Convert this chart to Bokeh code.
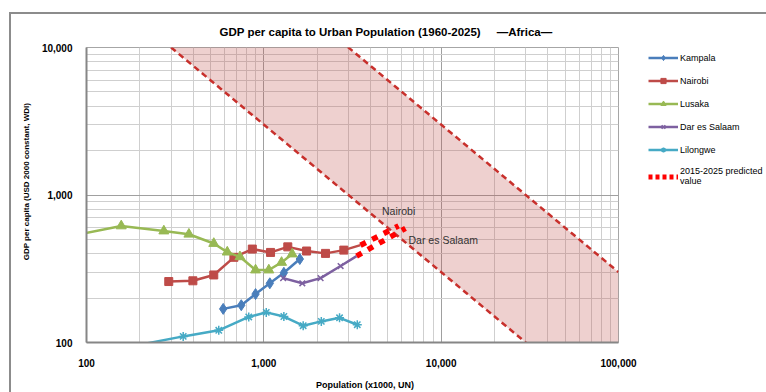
from bokeh.plotting import figure
from bokeh.layouts import row
from bokeh.models import FixedTicker, NumeralTickFormatter, Legend, LegendItem, Range1d
from bokeh.core.properties import value
from bokeh.embed import file_html
from bokeh.resources import INLINE

# ---------------- data (population x1000, GDP per capita USD) ----------------
kampala_pop = [590, 746, 898, 1081, 1297, 1596]
kampala_gdp = [169, 179, 213, 252, 297, 368]

nairobi_pop = [291, 398, 522, 678, 861, 1091, 1365, 1742, 2228, 2825, 3508]
nairobi_gdp = [259, 262, 287, 378, 430, 408, 445, 417, 402, 423, 457]

lusaka_pop = [81, 157, 273, 378, 522, 622, 733, 898, 1067, 1259, 1445]
lusaka_gdp = [526, 617, 570, 542, 469, 410, 381, 310, 310, 349, 398]

dar_pop = [1285, 1648, 2089, 2710, 3334]
dar_gdp = [273, 252, 273, 330, 385]

lilongwe_pop = [155, 351, 557, 822, 1032, 1297, 1667, 2109, 2673, 3365]
lilongwe_gdp = [91, 110, 121, 149, 160, 150, 130, 139, 147, 132]

# 2015-2025 predicted values (first point = last observed point)
pred_nairobi_pop = [3508, 4470, 5755]
pred_nairobi_gdp = [457, 528, 618]
pred_dar_pop = [3334, 4581, 6295]
pred_dar_gdp = [385, 479, 594]

# band of constant total GDP (pop x gdp = 3e6 .. 3e7)
band_pop = [100, 100000]
band_low = [30000, 30]
band_high = [300000, 300]

note_pop = [5755, 6546]
note_gdp = [774, 494]
note_text = ["Nairobi", "Dar es Salaam"]
note_align = ["center", "left"]

x_ticks = [100, 1000, 10000, 100000]
y_ticks = [100, 1000, 10000]

series_names = ["Kampala", "Nairobi", "Lusaka", "Dar es Salaam", "Lilongwe"]
pred_name = "2015-2025 predicted\nvalue"
title_text = "GDP per capita to Urban Population (1960-2025)"
title_tag = "\u2014Africa\u2014"
x_title = "Population (x1000, UN)"
y_title = "GDP per capita (USD 2000 constant, WDI)"

FONT = "Liberation Sans"
NBSP = "\u00a0"

# ---------------- main figure ----------------
p = figure(width=632, height=378, x_axis_type="log", y_axis_type="log",
           x_range=Range1d(100, 100000), y_range=Range1d(100, 10000),
           output_backend="svg", toolbar_location=None,
           min_border_left=75, min_border_right=25, min_border_top=32, min_border_bottom=49)
p.background_fill_color = "white"
p.border_fill_color = "white"
p.outline_line_color = "#A6A6A6"

p.title.text = title_text + NBSP * 5 + title_tag
p.title.align = "left"
p.title.offset = 133
p.title.standoff = 19
p.title.text_font = FONT
p.title.text_font_size = "11.5px"
p.title.text_font_style = "bold"
p.title.text_color = "#000000"

def minor_list(ticks):
    out = []
    for t in ticks[:-1]:
        out += [m * t for m in range(2, 10)]
    return out

xt = FixedTicker(ticks=x_ticks, minor_ticks=minor_list(x_ticks))
yt = FixedTicker(ticks=y_ticks, minor_ticks=minor_list(y_ticks))
p.xaxis.ticker = xt
p.xgrid.ticker = xt
p.yaxis.ticker = yt
p.ygrid.ticker = yt
for ax in (p.xaxis, p.yaxis):
    ax.formatter = NumeralTickFormatter(format="0,0")
    ax.major_tick_line_color = None
    ax.minor_tick_line_color = None
    ax.major_tick_out = 0
    ax.major_tick_in = 0
    ax.axis_line_color = "#868686"
    ax.axis_line_width = 2
    ax.major_label_text_font = FONT
    ax.major_label_text_font_size = "10px"
    ax.major_label_text_font_style = "bold"
    ax.major_label_text_color = "#000000"
    ax.axis_label_text_font = FONT
    ax.axis_label_text_font_style = "bold"
    ax.axis_label_text_color = "#000000"
p.xaxis.major_label_standoff = 12
p.yaxis.major_label_standoff = 10
p.xaxis.axis_label = NBSP * 10 + x_title
p.xaxis.axis_label_text_font_size = "9px"
p.xaxis.axis_label_standoff = 10
p.yaxis.axis_label = NBSP * 12 + y_title
p.yaxis.axis_label_text_font_size = "8px"
p.yaxis.axis_label_standoff = 8

for g in (p.xgrid, p.ygrid):
    g.grid_line_color = "#A0A0A0"
    g.grid_line_width = 1
    g.minor_grid_line_color = "#CFCFCF"
    g.minor_grid_line_width = 1

# band
p.varea(x=band_pop, y1=band_low, y2=band_high, fill_color="#C0504D", fill_alpha=0.27)
p.line(band_pop, band_low, line_color="#C8302C", line_width=2.5, line_dash="6 4")
p.line(band_pop, band_high, line_color="#C8302C", line_width=2.5, line_dash="6 4")

colors = ["#4A7EBB", "#BE4B48", "#98B954", "#7D60A0", "#46AAC5"]
markers = ["diamond", "square", "triangle", "x", "asterisk"]
msizes = [11, 8, 10, 8, 9]
shared_end = [False, True, False, True, False]   # last point is the start of the prediction
data = [(kampala_pop, kampala_gdp), (nairobi_pop, nairobi_gdp), (lusaka_pop, lusaka_gdp),
        (dar_pop, dar_gdp), (lilongwe_pop, lilongwe_gdp)]

PRED_COLOR = "#FF0000"

for (xs, ys), c, m, s, se in zip(data, colors, markers, msizes, shared_end):
    p.line(xs, ys, line_color=c, line_width=2.5)
    mx, my = (xs[:-1], ys[:-1]) if se else (xs, ys)
    p.scatter(mx, my, marker=m, size=s, line_color=c, fill_color=c,
              line_width=1.5 if m in ("x", "asterisk") else 1)

p.line(pred_nairobi_pop, pred_nairobi_gdp, line_color=PRED_COLOR, line_width=5.5, line_dash="6 7")
p.line(pred_dar_pop, pred_dar_gdp, line_color=PRED_COLOR, line_width=5.5, line_dash="6 7")

p.text(x=note_pop, y=note_gdp, text=note_text, text_align=note_align, text_baseline="middle",
       text_font=value(FONT), text_font_size="10.5px", text_color="#333333")

# ---------------- legend panel (separate, so it is not clipped by the plot frame) ----------------
lg = figure(width=123, height=378, output_backend="svg", toolbar_location=None,
            x_range=Range1d(0, 1), y_range=Range1d(0, 1),
            x_axis_location=None, y_axis_location=None, min_border=0)
lg.grid.visible = False
lg.outline_line_color = None
lg.background_fill_color = "white"
lg.border_fill_color = "white"

# the same series, drawn outside this panel's range: only their legend keys show
items = []
for name, (xs, ys), c, m, s in zip(series_names, data, colors, markers, msizes):
    lr = lg.line(xs, ys, line_color=c, line_width=2.5)
    sr = lg.scatter(xs, ys, marker=m, size=s, line_color=c, fill_color=c,
                    line_width=1.5 if m in ("x", "asterisk") else 1)
    items.append(LegendItem(label=name, renderers=[lr, sr]))
pr = lg.line(pred_nairobi_pop, pred_nairobi_gdp, line_color=PRED_COLOR, line_width=5, line_dash="4 3")
items.append(LegendItem(label=pred_name, renderers=[pr]))

legend = Legend(items=items, location=(5, 156), orientation="vertical", padding=0, margin=0,
                spacing=10, glyph_width=30, glyph_height=13, label_height=13, label_standoff=2,
                label_text_font=FONT, label_text_font_size="9px", label_text_line_height=1.4,
                label_text_color="#000000", border_line_alpha=0, background_fill_alpha=0)
lg.add_layout(legend)

layout = row(p, lg)
layout.margin = (12, 0, 0, 9)
layout.styles = {"border-left": "2px solid #8C8C8C", "border-top": "2px solid #8C8C8C"}

open("out.html", "w").write(file_html(layout, INLINE))
